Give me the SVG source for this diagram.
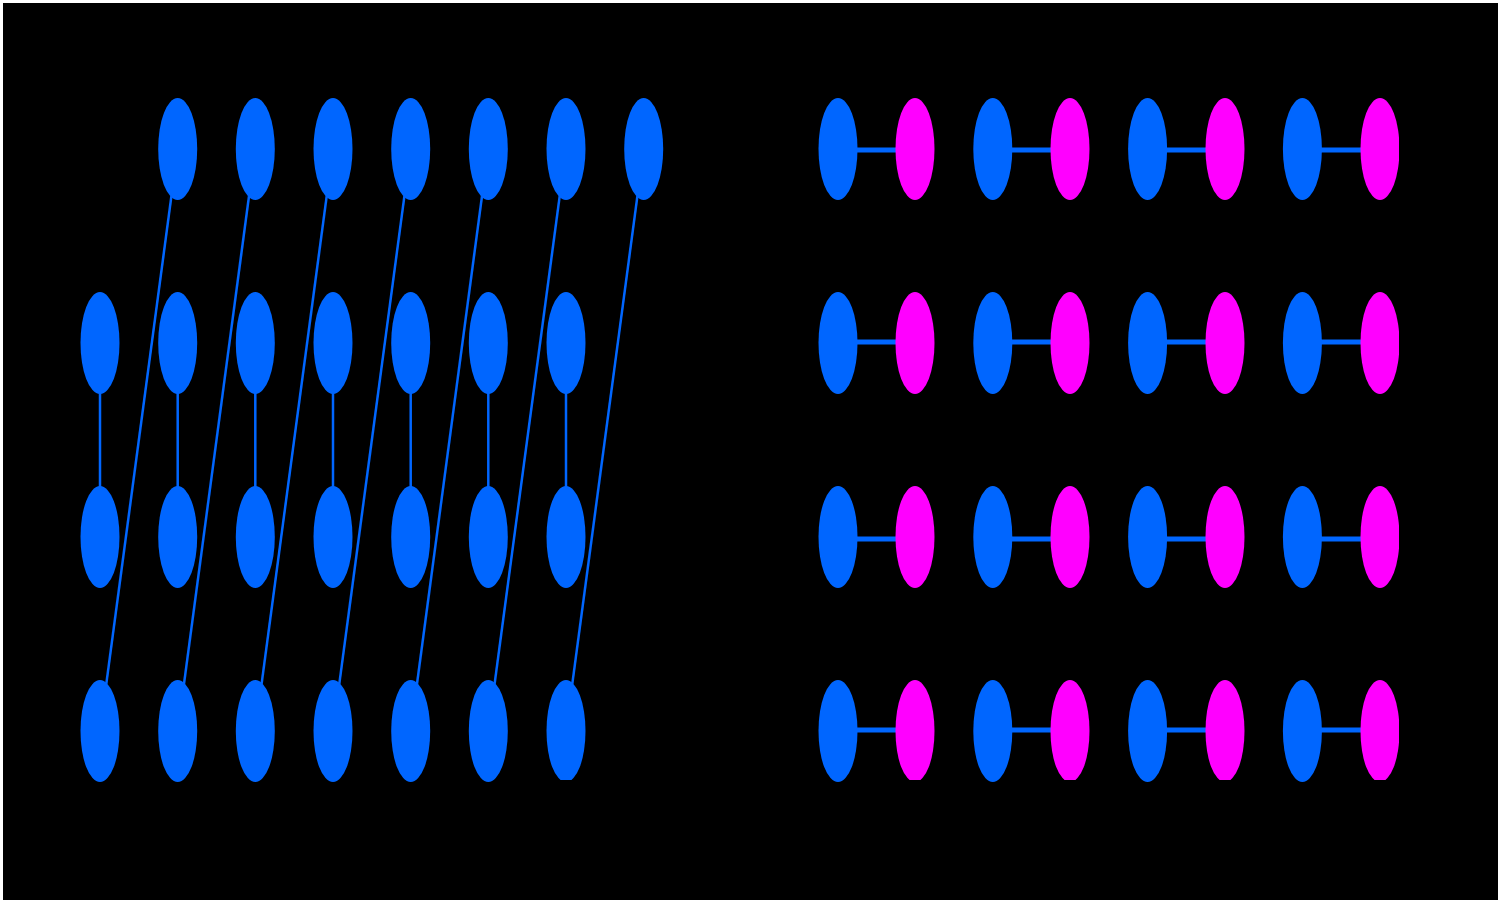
<svg xmlns="http://www.w3.org/2000/svg" width="1501" height="902" viewBox="0 0 1501 902">
<style>
.b{fill:#0066ff}
.m{fill:#ff00ff}
.e{stroke:#0066ff;fill:none}
.d{stroke-width:2.5}
.v{stroke-width:2.5}
.h{stroke-width:5}
ellipse{rx:19.5px;ry:51px}
</style>
<defs>
<clipPath id="clipM"><rect x="0" y="0" width="1399" height="780"/></clipPath>
</defs>
<rect x="0" y="0" width="1501" height="902" fill="#ffffff"/>
<rect x="3" y="3" width="1495" height="897" fill="#000000"/>
<g id="connectors">
<line class="e d" x1="171.4" y1="196.2" x2="106.3" y2="683.8"/>
<line class="e d" x1="249.0" y1="196.2" x2="184.0" y2="683.8"/>
<line class="e d" x1="326.7" y1="196.2" x2="261.6" y2="683.8"/>
<line class="e d" x1="404.4" y1="196.2" x2="339.3" y2="683.8"/>
<line class="e d" x1="482.0" y1="196.2" x2="417.0" y2="683.8"/>
<line class="e d" x1="559.7" y1="196.2" x2="494.6" y2="683.8"/>
<line class="e d" x1="637.4" y1="196.2" x2="572.3" y2="683.8"/>
<line class="e v" x1="100" y1="392" x2="100" y2="488"/>
<line class="e v" x1="177.7" y1="392" x2="177.7" y2="488"/>
<line class="e v" x1="255.3" y1="392" x2="255.3" y2="488"/>
<line class="e v" x1="333" y1="392" x2="333" y2="488"/>
<line class="e v" x1="410.7" y1="392" x2="410.7" y2="488"/>
<line class="e v" x1="488.3" y1="392" x2="488.3" y2="488"/>
<line class="e v" x1="566" y1="392" x2="566" y2="488"/>
<line class="e h" x1="856" y1="150" x2="897" y2="150"/>
<line class="e h" x1="1011" y1="150" x2="1052" y2="150"/>
<line class="e h" x1="1166" y1="150" x2="1207" y2="150"/>
<line class="e h" x1="1321" y1="150" x2="1362" y2="150"/>
<line class="e h" x1="856" y1="342" x2="897" y2="342"/>
<line class="e h" x1="1011" y1="342" x2="1052" y2="342"/>
<line class="e h" x1="1166" y1="342" x2="1207" y2="342"/>
<line class="e h" x1="1321" y1="342" x2="1362" y2="342"/>
<line class="e h" x1="856" y1="539" x2="897" y2="539"/>
<line class="e h" x1="1011" y1="539" x2="1052" y2="539"/>
<line class="e h" x1="1166" y1="539" x2="1207" y2="539"/>
<line class="e h" x1="1321" y1="539" x2="1362" y2="539"/>
<line class="e h" x1="856" y1="730" x2="897" y2="730"/>
<line class="e h" x1="1011" y1="730" x2="1052" y2="730"/>
<line class="e h" x1="1166" y1="730" x2="1207" y2="730"/>
<line class="e h" x1="1321" y1="730" x2="1362" y2="730"/>
</g>
<g id="L-r1c2"><ellipse class="b" cx="177.7" cy="149" rx="19.5" ry="51"/></g>
<g id="L-r1c3"><ellipse class="b" cx="255.3" cy="149" rx="19.5" ry="51"/></g>
<g id="L-r1c4"><ellipse class="b" cx="333" cy="149" rx="19.5" ry="51"/></g>
<g id="L-r1c5"><ellipse class="b" cx="410.7" cy="149" rx="19.5" ry="51"/></g>
<g id="L-r1c6"><ellipse class="b" cx="488.3" cy="149" rx="19.5" ry="51"/></g>
<g id="L-r1c7"><ellipse class="b" cx="566" cy="149" rx="19.5" ry="51"/></g>
<g id="L-r1c8"><ellipse class="b" cx="643.7" cy="149" rx="19.5" ry="51"/></g>
<g id="L-r2c1"><ellipse class="b" cx="100" cy="343" rx="19.5" ry="51"/></g>
<g id="L-r2c2"><ellipse class="b" cx="177.7" cy="343" rx="19.5" ry="51"/></g>
<g id="L-r2c3"><ellipse class="b" cx="255.3" cy="343" rx="19.5" ry="51"/></g>
<g id="L-r2c4"><ellipse class="b" cx="333" cy="343" rx="19.5" ry="51"/></g>
<g id="L-r2c5"><ellipse class="b" cx="410.7" cy="343" rx="19.5" ry="51"/></g>
<g id="L-r2c6"><ellipse class="b" cx="488.3" cy="343" rx="19.5" ry="51"/></g>
<g id="L-r2c7"><ellipse class="b" cx="566" cy="343" rx="19.5" ry="51"/></g>
<g id="L-r3c1"><ellipse class="b" cx="100" cy="537" rx="19.5" ry="51"/></g>
<g id="L-r3c2"><ellipse class="b" cx="177.7" cy="537" rx="19.5" ry="51"/></g>
<g id="L-r3c3"><ellipse class="b" cx="255.3" cy="537" rx="19.5" ry="51"/></g>
<g id="L-r3c4"><ellipse class="b" cx="333" cy="537" rx="19.5" ry="51"/></g>
<g id="L-r3c5"><ellipse class="b" cx="410.7" cy="537" rx="19.5" ry="51"/></g>
<g id="L-r3c6"><ellipse class="b" cx="488.3" cy="537" rx="19.5" ry="51"/></g>
<g id="L-r3c7"><ellipse class="b" cx="566" cy="537" rx="19.5" ry="51"/></g>
<g id="L-r4c1"><ellipse class="b" cx="100" cy="731" rx="19.5" ry="51"/></g>
<g id="L-r4c2"><ellipse class="b" cx="177.7" cy="731" rx="19.5" ry="51"/></g>
<g id="L-r4c3"><ellipse class="b" cx="255.3" cy="731" rx="19.5" ry="51"/></g>
<g id="L-r4c4"><ellipse class="b" cx="333" cy="731" rx="19.5" ry="51"/></g>
<g id="L-r4c5"><ellipse class="b" cx="410.7" cy="731" rx="19.5" ry="51"/></g>
<g id="L-r4c6"><ellipse class="b" cx="488.3" cy="731" rx="19.5" ry="51"/></g>
<g id="L-r4c7"><ellipse class="b" cx="566" cy="731" rx="19.5" ry="51" clip-path="url(#clipM)"/></g>
<g id="R-r1b1"><ellipse class="b" cx="838" cy="149" rx="19.5" ry="51"/></g>
<g id="R-r1m1"><ellipse class="m" cx="915" cy="149" rx="19.5" ry="51"/></g>
<g id="R-r1b2"><ellipse class="b" cx="992.8" cy="149" rx="19.5" ry="51"/></g>
<g id="R-r1m2"><ellipse class="m" cx="1070" cy="149" rx="19.5" ry="51"/></g>
<g id="R-r1b3"><ellipse class="b" cx="1147.6" cy="149" rx="19.5" ry="51"/></g>
<g id="R-r1m3"><ellipse class="m" cx="1225" cy="149" rx="19.5" ry="51"/></g>
<g id="R-r1b4"><ellipse class="b" cx="1302.4" cy="149" rx="19.5" ry="51"/></g>
<g id="R-r1m4"><ellipse class="m" cx="1380" cy="149" rx="19.5" ry="51" clip-path="url(#clipM)"/></g>
<g id="R-r2b1"><ellipse class="b" cx="838" cy="343" rx="19.5" ry="51"/></g>
<g id="R-r2m1"><ellipse class="m" cx="915" cy="343" rx="19.5" ry="51"/></g>
<g id="R-r2b2"><ellipse class="b" cx="992.8" cy="343" rx="19.5" ry="51"/></g>
<g id="R-r2m2"><ellipse class="m" cx="1070" cy="343" rx="19.5" ry="51"/></g>
<g id="R-r2b3"><ellipse class="b" cx="1147.6" cy="343" rx="19.5" ry="51"/></g>
<g id="R-r2m3"><ellipse class="m" cx="1225" cy="343" rx="19.5" ry="51"/></g>
<g id="R-r2b4"><ellipse class="b" cx="1302.4" cy="343" rx="19.5" ry="51"/></g>
<g id="R-r2m4"><ellipse class="m" cx="1380" cy="343" rx="19.5" ry="51" clip-path="url(#clipM)"/></g>
<g id="R-r3b1"><ellipse class="b" cx="838" cy="537" rx="19.5" ry="51"/></g>
<g id="R-r3m1"><ellipse class="m" cx="915" cy="537" rx="19.5" ry="51"/></g>
<g id="R-r3b2"><ellipse class="b" cx="992.8" cy="537" rx="19.5" ry="51"/></g>
<g id="R-r3m2"><ellipse class="m" cx="1070" cy="537" rx="19.5" ry="51"/></g>
<g id="R-r3b3"><ellipse class="b" cx="1147.6" cy="537" rx="19.5" ry="51"/></g>
<g id="R-r3m3"><ellipse class="m" cx="1225" cy="537" rx="19.5" ry="51"/></g>
<g id="R-r3b4"><ellipse class="b" cx="1302.4" cy="537" rx="19.5" ry="51"/></g>
<g id="R-r3m4"><ellipse class="m" cx="1380" cy="537" rx="19.5" ry="51" clip-path="url(#clipM)"/></g>
<g id="R-r4b1"><ellipse class="b" cx="838" cy="731" rx="19.5" ry="51"/></g>
<g id="R-r4m1"><ellipse class="m" cx="915" cy="731" rx="19.5" ry="51" clip-path="url(#clipM)"/></g>
<g id="R-r4b2"><ellipse class="b" cx="992.8" cy="731" rx="19.5" ry="51"/></g>
<g id="R-r4m2"><ellipse class="m" cx="1070" cy="731" rx="19.5" ry="51" clip-path="url(#clipM)"/></g>
<g id="R-r4b3"><ellipse class="b" cx="1147.6" cy="731" rx="19.5" ry="51"/></g>
<g id="R-r4m3"><ellipse class="m" cx="1225" cy="731" rx="19.5" ry="51" clip-path="url(#clipM)"/></g>
<g id="R-r4b4"><ellipse class="b" cx="1302.4" cy="731" rx="19.5" ry="51"/></g>
<g id="R-r4m4"><ellipse class="m" cx="1380" cy="731" rx="19.5" ry="51" clip-path="url(#clipM)"/></g>
</svg>
